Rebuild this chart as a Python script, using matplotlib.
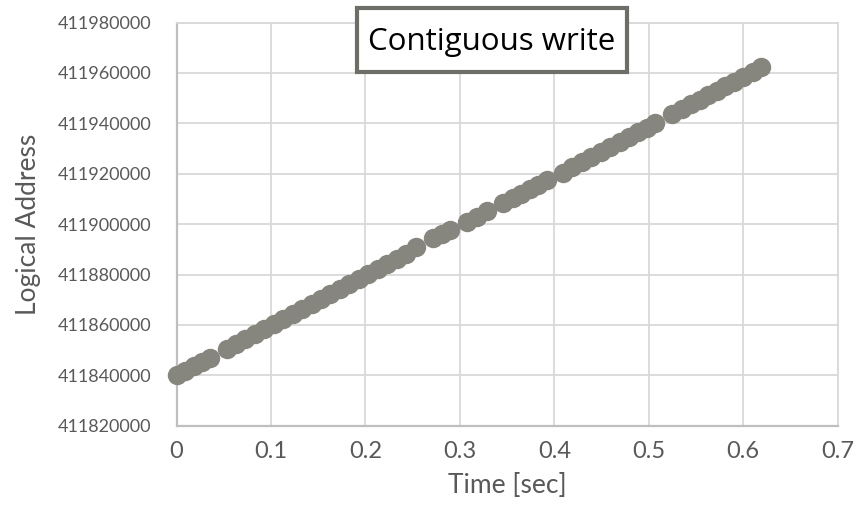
import matplotlib
matplotlib.use("Agg")
import matplotlib.pyplot as plt
from matplotlib.patches import Rectangle

# ---- data ----
time_sec = [
    0.000, 0.009, 0.018, 0.027, 0.035,
    0.053, 0.063, 0.073, 0.083, 0.093, 0.103, 0.113, 0.123, 0.133, 0.143,
    0.153, 0.163, 0.173, 0.183, 0.193, 0.203, 0.213, 0.223, 0.233, 0.243, 0.254,
    0.272, 0.281, 0.290,
    0.308, 0.318, 0.329,
    0.346, 0.356, 0.365, 0.374, 0.383, 0.392,
    0.409, 0.419, 0.429, 0.439, 0.449, 0.459, 0.469, 0.479, 0.489, 0.498, 0.507,
    0.525, 0.535, 0.545, 0.554, 0.563, 0.572, 0.581, 0.590, 0.600, 0.610, 0.619,
]
logical_address = [
    411840000, 411841800, 411843600, 411845300, 411846900,
    411850500, 411852400, 411854400, 411856400, 411858400, 411860300, 411862300,
    411864300, 411866300, 411868200, 411870200, 411872200, 411874200, 411876100,
    411878100, 411880100, 411882100, 411884000, 411886000, 411888000, 411891000,
    411894300, 411896000, 411897800,
    411901000, 411903000, 411905100,
    411908300, 411910300, 411912100, 411913900, 411915600, 411917400,
    411920300, 411922500, 411924500, 411926500, 411928500, 411930500, 411932500,
    411934500, 411936500, 411938300, 411940100,
    411943700, 411945600, 411947600, 411949400, 411951200, 411953000, 411954700,
    411956500, 411958500, 411960500, 411962300,
]
x_ticks = [0, 0.1, 0.2, 0.3, 0.4, 0.5, 0.6, 0.7]
x_tick_labels = ["0", "0.1", "0.2", "0.3", "0.4", "0.5", "0.6", "0.7"]
y_ticks = [411820000, 411840000, 411860000, 411880000, 411900000,
           411920000, 411940000, 411960000, 411980000]
y_tick_labels = [str(v) for v in y_ticks]
title_text = "Contiguous write"
x_label = "Time [sec]"
y_label = "Logical Address"

# ---- figure ----
fig = plt.figure(figsize=(8.59, 5.21), dpi=100)
ax = fig.add_axes([0.2055, 0.1829, 0.9752 - 0.2055, 0.9568 - 0.1829])

ax.plot(time_sec, logical_address, linestyle="none", marker="o",
        markersize=14, color="#86867e", markeredgewidth=0, zorder=3,
        clip_on=False)

ax.set_xlim(0, 0.7)
ax.set_ylim(411820000, 411980000)
ax.set_xticks(x_ticks)
ax.set_xticklabels(x_tick_labels)
ax.set_yticks(y_ticks)
ax.set_yticklabels(y_tick_labels)

ax.grid(True, color="#d9d9d9", linewidth=1.3, zorder=0)
ax.set_axisbelow(True)
for side in ["top", "right"]:
    ax.spines[side].set_color("#d9d9d9")
    ax.spines[side].set_linewidth(1.3)
for side in ["left", "bottom"]:
    ax.spines[side].set_color("#bfbfbf")
    ax.spines[side].set_linewidth(1.6)

ax.tick_params(axis="both", length=0, colors="#595959")
ax.tick_params(axis="x", labelsize=17, pad=11)
ax.tick_params(axis="y", labelsize=13, pad=18)
for lab in ax.get_xticklabels() + ax.get_yticklabels():
    lab.set_fontfamily("Lato")

ax.set_xlabel(x_label, fontsize=19, color="#595959", family="Lato", labelpad=8)
ax.set_ylabel(y_label, fontsize=19, color="#595959", family="Lato", labelpad=12)

# title box
bx0, bx1 = 357 / 859, 627 / 859
by0, by1 = 1 - 72 / 521, 1 - 8 / 521
fig.patches.append(Rectangle((bx0, by0), bx1 - bx0, by1 - by0,
                             transform=fig.transFigure, facecolor="white",
                             edgecolor="#6e6e68", linewidth=3, zorder=5))
fig.text((bx0 + bx1) / 2, (by0 + by1) / 2 - 0.003, title_text,
         ha="center", va="center", fontsize=22.5, color="black",
         family="Open Sans", zorder=6)

fig.savefig("out.png", dpi=100)
